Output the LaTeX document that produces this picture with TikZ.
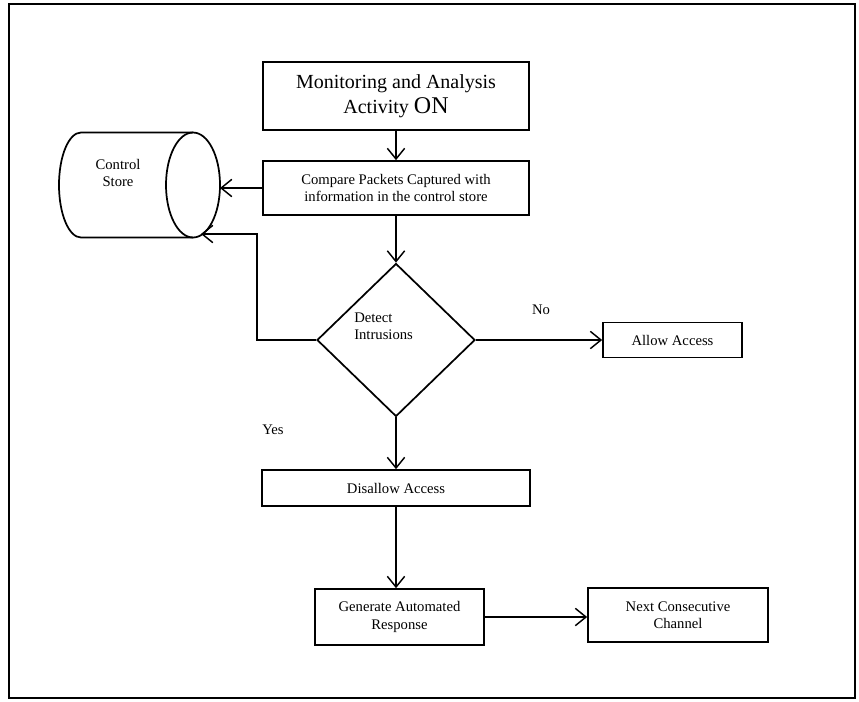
\documentclass[tikz,border=0pt]{standalone}
\usepackage{fontspec}
\setmainfont{Liberation Serif}
\usetikzlibrary{arrows.meta,shapes.geometric}
\begin{document}
\begin{tikzpicture}[x=0.75pt,y=-0.75pt,
  sz/.style 2 args={minimum width=#1*0.75pt, minimum height=#2*0.75pt},
  boxnode/.style={draw, line width=1.3pt, inner sep=0pt, align=center,
    font=\fontsize{11}{13}\selectfont},
  lbl/.style={inner sep=0pt, align=center, font=\fontsize{11}{13}\selectfont},
  shapeline/.style={line width=1.3pt},
  link/.style={line width=1.1pt,
    -{Straight Barb[length=8pt,width=13pt,line width=1.1pt]}}]
  % page and outer frame
  \useasboundingbox (0,0) rectangle (859,701);
  \draw[line width=2.2pt] (9,4) rectangle (855,698);

  % process boxes
  \node[boxnode, sz={266}{68}, font=\fontsize{15}{19}\selectfont] (mon) at (396,96)
    {Monitoring and Analysis\\Activity {\fontsize{18}{19}\selectfont ON}};
  \node[boxnode, sz={266}{54}] (cmp) at (396,188)
    {Compare Packets Captured with\\information in the control store};
  \node[boxnode, sz={139}{35}] (allow) at (672.5,340) {Allow Access};
  \node[boxnode, sz={268}{36}] (dis) at (396,488) {Disallow Access};
  \node[boxnode, sz={169}{56}] (gen) at (399.5,617) {Generate Automated\\Response};
  \node[boxnode, sz={180}{54}] (nxt) at (678,615) {Next Consecutive\\Channel};

  % control store: a cylinder lying on its side
  \draw[shapeline] (193,132.5) -- (81,132.5)
    arc[start angle=90, end angle=270, x radius=16.5pt, y radius=39.375pt]
    -- (193,237.5);
  \draw[shapeline] (193,185) ellipse [x radius=20.25pt, y radius=39.375pt];
  \node[lbl] (cyltext) at (118,173) {Control\\Store};
  \coordinate (cylr) at (220,188);
  \coordinate (csin) at (201,234);
  \coordinate (bendc) at (257,234);

  % decision
  \node[diamond, draw, line width=1.3pt, inner sep=0pt, sz={158}{153}] (dec) at (396,340) {};
  \node[lbl, anchor=west, align=left] (dectext) at (354,326) {Detect\\Intrusions};
  \node[lbl] (no) at (541,310) {No};
  \node[lbl] (yes) at (273,430) {Yes};

  % connectors
  \draw[link] (mon.south) -- (mon.south |- cmp.north);
  \draw[link] (cmp.west) -- (cylr);
  \draw[link] (cmp.south) -- (cmp.south |- dec.north);
  \draw[link] (dec.west) -| (bendc) -- (csin);
  \draw[link] (dec.east) -- (allow.west);
  \draw[link] (dec.south) -- (dec.south |- dis.north);
  \draw[link] (dis.south) -- (dis.south |- gen.north);
  \draw[link] (gen.east) -- (gen.east -| nxt.west);
\end{tikzpicture}
\end{document}
